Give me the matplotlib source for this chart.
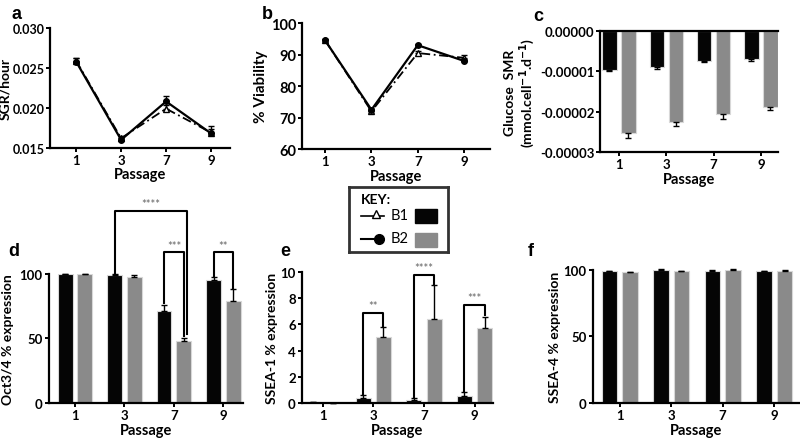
import numpy as np
import matplotlib.pyplot as plt
from matplotlib.patches import Rectangle

plt.rcParams['font.family'] = ['Lato', 'DejaVu Sans']
plt.rcParams['font.weight'] = 'bold'
plt.rcParams['axes.labelweight'] = 'bold'
plt.rcParams['axes.linewidth'] = 1.6

# data
passages = ['1', '3', '7', '9']

sgr_b1 = [0.0259, 0.0162, 0.0199, 0.0169]
sgr_b2 = [0.0258, 0.0160, 0.0208, 0.0168]
sgr_err_b1 = [0.0004, 0.0003, 0.0005, 0.0008]
sgr_err_b2 = [0.0005, 0.0002, 0.0007, 0.0005]

via_b1 = [94.5, 72.0, 90.5, 89.0]
via_b2 = [94.5, 72.5, 93.0, 88.0]
via_err_b1 = [0.5, 0.8, 0.8, 0.8]
via_err_b2 = [0.5, 0.5, 0.5, 0.5]

glc_b1 = [-0.0000097, -0.0000089, -0.0000074, -0.0000068]
glc_b2 = [-0.0000253, -0.0000225, -0.0000206, -0.0000188]
glc_err_b1 = [0.0000002, 0.0000004, 0.0000002, 0.0000006]
glc_err_b2 = [0.0000013, 0.0000010, 0.0000013, 0.0000007]

oct_b1 = [100, 99, 71, 95.5]
oct_b2 = [99.5, 97.5, 48, 79]
oct_err_b1 = [0, 0.6, 5, 2]
oct_err_b2 = [0, 1.5, 2, 9]

ssea1_b1 = [0.05, 0.35, 0.25, 0.5]
ssea1_b2 = [0.0, 5.0, 6.4, 5.7]
ssea1_err_b1 = [0, 0.25, 0.15, 0.3]
ssea1_err_b2 = [0, 0.8, 2.6, 0.9]

ssea4_b1 = [99, 100, 99, 99]
ssea4_b2 = [98.5, 99, 100, 99]
ssea4_err_b1 = [0, 0.6, 0.6, 0.3]
ssea4_err_b2 = [0, 0, 0.6, 0.8]

# significance brackets: (x1, x2, leg1, leg2, top, label)
oct_sig = [(0.8, 2.27, 101, 53, 149, '****'),
           (1.8, 2.2, 77, 52, 117, '***'),
           (2.8, 3.2, 98.5, 89, 117, '**')]
ssea1_sig = [(0.8, 1.2, 0.7, 5.9, 6.9, '**'),
             (1.8, 2.2, 0.45, 9.0, 9.8, '****'),
             (2.8, 3.2, 0.9, 6.7, 7.5, '***')]

BLACK = '#050505'
GREY = '#8a8a8a'
x = np.arange(len(passages))

fig = plt.figure(figsize=(8, 4.39), dpi=100)


def style(ax, xlim):
    ax.spines['top'].set_visible(False)
    ax.spines['right'].set_visible(False)
    ax.set_xticks(x)
    ax.set_xticklabels(passages)
    ax.set_xlim(*xlim)
    ax.tick_params(labelsize=9.5, width=1.4, length=3, pad=1.5)
    ax.set_xlabel('Passage', fontsize=10.5, labelpad=1)


def lines(ax, b1, b2, e1, e2):
    ax.errorbar(x, b1, yerr=[np.zeros(4), e1], color='k', ls=(0, (5, 2, 1, 2)),
                lw=1.3, marker='^', mfc='white', ms=4, capsize=2.5, elinewidth=1, clip_on=False)
    ax.errorbar(x, b2, yerr=[np.zeros(4), e2], color='k', ls='-',
                lw=1.6, marker='o', ms=4, capsize=2.5, elinewidth=1, clip_on=False)


def bars(ax, b1, b2, e1, e2, down=False):
    w = 0.3
    for vals, err, off, col in [(b1, e1, -0.2, BLACK), (b2, e2, 0.2, GREY)]:
        ax.bar(x + off, vals, w, color=col, edgecolor='#d8d8d8', lw=0.8, zorder=2)
        z = np.zeros(4)
        yerr = [err, z] if down else [z, err]
        ax.errorbar(x + off, vals, yerr=yerr, fmt='none', ecolor='k', elinewidth=1,
                    capsize=2.5, clip_on=False, zorder=3)


def brackets(ax, sig, dy):
    for x1, x2, l1, l2, top, lab in sig:
        ax.plot([x1, x1, x2, x2], [l1, top, top, l2], color='k', lw=1.5, clip_on=False)
        ax.text((x1 + x2) / 2, top + dy, lab, ha='center', va='bottom', fontsize=8,
                color='#666666', fontweight='normal')


# a
ax = fig.add_axes([0.0625, 0.661, 0.225, 0.273])
lines(ax, sgr_b1, sgr_b2, sgr_err_b1, sgr_err_b2)
ax.set_ylim(0.015, 0.030)
ax.set_yticks([0.015, 0.020, 0.025, 0.030])
ax.set_yticklabels(['0.015', '0.020', '0.025', '0.030'])
style(ax, (-0.58, 3.42))
ax.tick_params(axis='y', labelsize=9, pad=1)
ax.set_ylabel('SGR/hour', fontsize=10, labelpad=1)

# b
ax = fig.add_axes([0.3775, 0.658, 0.235, 0.287])
lines(ax, via_b1, via_b2, via_err_b1, via_err_b2)
ax.set_ylim(60, 100)
ax.set_yticks([60, 70, 80, 90, 100])
style(ax, (-0.5, 3.56))
ax.tick_params(axis='y', labelsize=10.5, pad=1)
ax.set_ylabel('% Viability', fontsize=11, labelpad=2)

# c
ax = fig.add_axes([0.75, 0.651, 0.2225, 0.276])
bars(ax, glc_b1, glc_b2, glc_err_b1, glc_err_b2, down=True)
ax.set_ylim(-0.00003, 0)
ax.set_yticks([-0.00003, -0.00002, -0.00001, 0])
ax.set_yticklabels(['-0.00003', '-0.00002', '-0.00001', '0.00000'])
style(ax, (-0.4, 3.36))
ax.tick_params(axis='y', pad=1)
ax.spines['top'].set_visible(True)
ax.set_ylabel('Glucose  SMR\n(mmol.cell$^{-1}$.d$^{-1}$)', fontsize=10, labelpad=2,
              linespacing=1.1)

# d
ax = fig.add_axes([0.061, 0.080, 0.243, 0.294])
bars(ax, oct_b1, oct_b2, oct_err_b1, oct_err_b2)
brackets(ax, oct_sig, 1)
ax.set_ylim(0, 100)
ax.set_yticks([0, 50, 100])
style(ax, (-0.53, 3.4))
ax.set_ylabel('Oct3/4 % expression', fontsize=10, labelpad=4)

# e
ax = fig.add_axes([0.3775, 0.080, 0.2385, 0.298])
bars(ax, ssea1_b1, ssea1_b2, ssea1_err_b1, ssea1_err_b2)
brackets(ax, ssea1_sig, 0.1)
ax.set_ylim(0, 10)
ax.set_yticks([0, 2, 4, 6, 8, 10])
style(ax, (-0.41, 3.36))
ax.set_ylabel('SSEA-1 % expression', fontsize=10, labelpad=2)

# f
ax = fig.add_axes([0.741, 0.080, 0.259, 0.303])
bars(ax, ssea4_b1, ssea4_b2, ssea4_err_b1, ssea4_err_b2)
ax.set_ylim(0, 100)
ax.set_yticks([0, 50, 100])
style(ax, (-0.52, 3.5))
ax.set_ylabel('SSEA-4 % expression', fontsize=10, labelpad=2)

# panel letters
for lab, px, py in [('a', 12, 6), ('b', 262, 6), ('c', 533, 8),
                    ('d', 8, 243), ('e', 280, 243), ('f', 528, 243)]:
    fig.text(px / 800, 1 - py / 439, lab, fontsize=13, fontweight='bold',
             family='Liberation Sans', va='top')

# key box
key = fig.add_axes([349 / 800, 1 - 253 / 439, 99 / 800, 65 / 439])
key.set_xlim(0, 1)
key.set_ylim(0, 1)
key.set_xticks([])
key.set_yticks([])
for s in key.spines.values():
    s.set_linewidth(2)
    s.set_edgecolor('#333333')
key.text(0.12, 0.9, 'KEY:', fontsize=10, fontweight='bold', va='top')
key.plot([0.12, 0.35], [0.55, 0.55], color='k', lw=1.2)
key.plot([0.27], [0.58], marker='^', mfc='white', mec='k', ms=6)
key.text(0.42, 0.57, 'B1', fontsize=10.5, fontweight='normal', va='center')
key.add_patch(Rectangle((0.67, 0.44), 0.22, 0.22, color=BLACK))
key.plot([0.12, 0.3], [0.2, 0.2], color='k', lw=1.5)
key.plot([0.3], [0.2], marker='o', color='k', ms=7)
key.text(0.42, 0.22, 'B2', fontsize=10.5, fontweight='normal', va='center')
key.add_patch(Rectangle((0.67, 0.08), 0.22, 0.22, color=GREY))

fig.savefig('out.png', dpi=100)
